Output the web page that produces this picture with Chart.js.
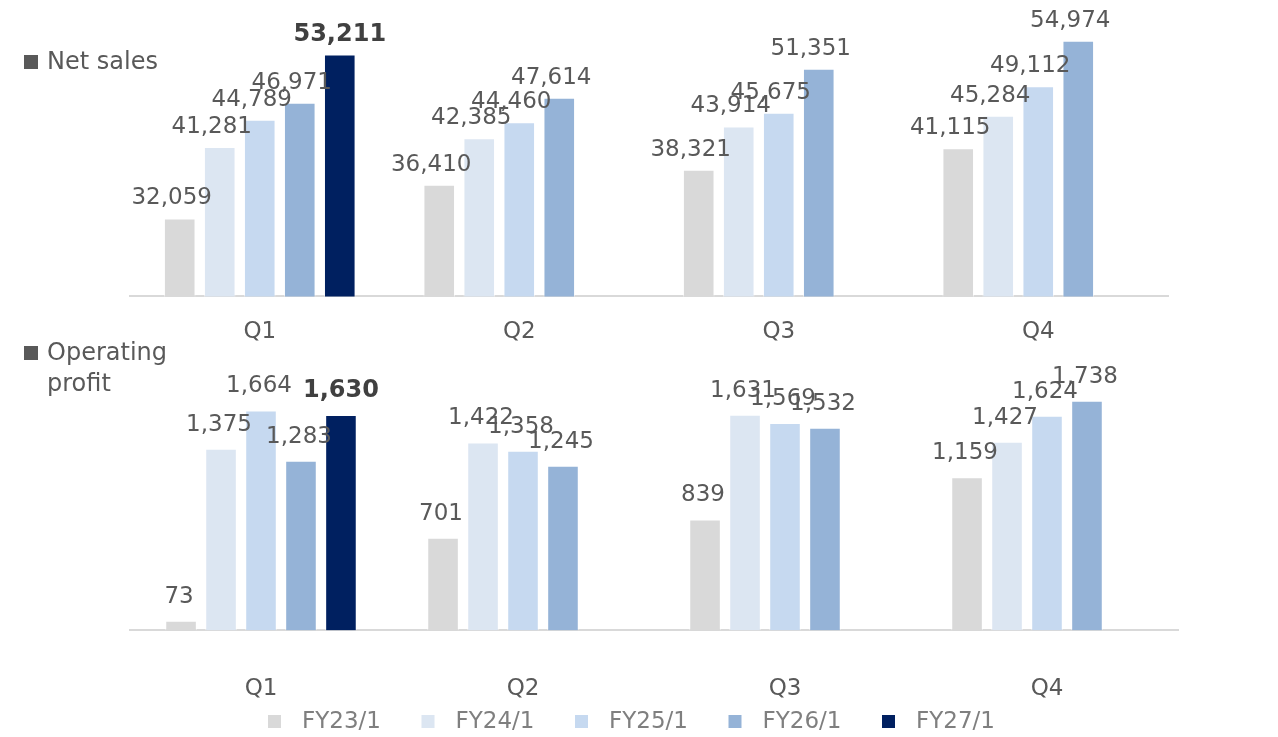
<!DOCTYPE html>
<html>
<head>
<meta charset="utf-8">
<script src="https://cdn.jsdelivr.net/npm/chart.js@4.4.0/dist/chart.umd.min.js"></script>
<style>
  body { margin: 0; background: #fff; width: 1278px; height: 737px; position: relative; overflow: hidden;
         font-family: "DejaVu Sans", Verdana, sans-serif; }
  canvas { position: absolute; left: 0; }
  #salesChart { top: 0; }
  #profitChart { top: 345px; }
  .tag { position: absolute; left: 24px; color: #595959; font-size: 24px; line-height: 31px;
         padding-left: 23px; text-indent: -23px; }
  .tag span { display: inline-block; width: 14px; height: 14px; background: #595959; margin-right: 9px; text-indent: 0; }
</style>
</head>
<body>
<canvas id="salesChart" width="1278" height="368"></canvas>
<canvas id="profitChart" width="1278" height="414"></canvas>
<div class="tag" style="top:46px"><span></span>Net sales</div>
<div class="tag" style="top:337px"><span></span>Operating<br>profit</div>

<script>
const quarters = ["Q1", "Q2", "Q3", "Q4"];
const fiscalYears = ["FY23/1", "FY24/1", "FY25/1", "FY26/1", "FY27/1"];
const barColors = ["#d9d9d9", "#dce6f2", "#c6d9f0", "#95b3d7", "#002060"];

// net sales per quarter
const salesFY23 = [32059, 36410, 38321, 41115];
const salesFY24 = [41281, 42385, 43914, 45284];
const salesFY25 = [44789, 44460, 45675, 49112];
const salesFY26 = [46971, 47614, 51351, 54974];
const salesFY27 = [53211, null, null, null];

// operating profit per quarter
const profitFY23 = [73, 701, 839, 1159];
const profitFY24 = [1375, 1422, 1631, 1427];
const profitFY25 = [1664, 1358, 1569, 1624];
const profitFY26 = [1283, 1245, 1532, 1738];
const profitFY27 = [1630, null, null, null];

const FONT = '"DejaVu Sans", Verdana, sans-serif';

function makeDatasets(rows, catPct) {
  return rows.map((data, i) => ({
    label: fiscalYears[i],
    data: data,
    backgroundColor: barColors[i],
    borderColor: "rgba(255,255,255,0.6)",
    borderWidth: 1,
    categoryPercentage: catPct,
    barPercentage: 0.79
  }));
}

// numbers above each bar, latest year in bold
const valueLabels = {
  id: "valueLabels",
  afterDatasetsDraw(chart, args, opts) {
    const ctx = chart.ctx;
    ctx.save();
    ctx.textAlign = "center";
    ctx.textBaseline = "middle";
    chart.data.datasets.forEach((ds, i) => {
      const meta = chart.getDatasetMeta(i);
      meta.data.forEach((bar, j) => {
        const v = ds.data[j];
        if (v == null) return;
        const bold = i === 4;
        ctx.font = (bold ? "bold 24px " : "23px ") + FONT;
        ctx.fillStyle = bold ? "#404040" : "#595959";
        ctx.fillText(v.toLocaleString("en-US"), bar.x + (bold ? 0 : opts.dx), bar.y - opts.gap);
      });
    });
    ctx.restore();
  }
};

// series key along the bottom edge, drawn from the dataset colours
const yearKey = {
  id: "yearKey",
  afterDraw(chart, args, opts) {
    const ctx = chart.ctx;
    ctx.save();
    ctx.font = "23px " + FONT;
    ctx.textBaseline = "middle";
    ctx.textAlign = "left";
    chart.data.datasets.forEach((ds, i) => {
      const tx = opts.x + i * opts.step;
      ctx.fillStyle = ds.backgroundColor;
      ctx.fillRect(tx - 34, opts.y - 7, 13, 13);
      ctx.fillStyle = opts.color;
      ctx.fillText(ds.label, tx, opts.y);
    });
    ctx.restore();
  }
};

function xAxis(pad) {
  return {
    grid: { display: false, drawTicks: false },
    border: { display: true, color: "#d9d9d9", width: 2 },
    ticks: { color: "#595959", font: { family: FONT, size: 23 }, padding: pad }
  };
}

new Chart(document.getElementById("salesChart"), {
  type: "bar",
  data: {
    labels: quarters,
    datasets: makeDatasets([salesFY23, salesFY24, salesFY25, salesFY26, salesFY27], 0.771)
  },
  options: {
    responsive: false,
    animation: false,
    layout: { padding: { left: 130, right: 110, top: 25, bottom: 0 } },
    scales: {
      x: xAxis(22),
      y: { display: false, min: 22000, max: 57000 }
    },
    plugins: {
      legend: { display: false },
      tooltip: { enabled: false },
      valueLabels: { dx: -8, gap: 20 }
    }
  },
  plugins: [valueLabels]
});

new Chart(document.getElementById("profitChart"), {
  type: "bar",
  data: {
    labels: quarters,
    datasets: makeDatasets([profitFY23, profitFY24, profitFY25, profitFY26, profitFY27], 0.763)
  },
  options: {
    responsive: false,
    animation: false,
    layout: { padding: { left: 130, right: 100, top: 21, bottom: 11 } },
    scales: {
      x: xAxis(45),
      y: { display: false, min: 0, max: 2000 }
    },
    plugins: {
      legend: { display: false },
      tooltip: { enabled: false },
      valueLabels: { dx: -2, gap: 24 },
      yearKey: { x: 302, step: 153.5, y: 377, color: "#7f7f7f" }
    }
  },
  plugins: [valueLabels, yearKey]
});
</script>
</body>
</html>
